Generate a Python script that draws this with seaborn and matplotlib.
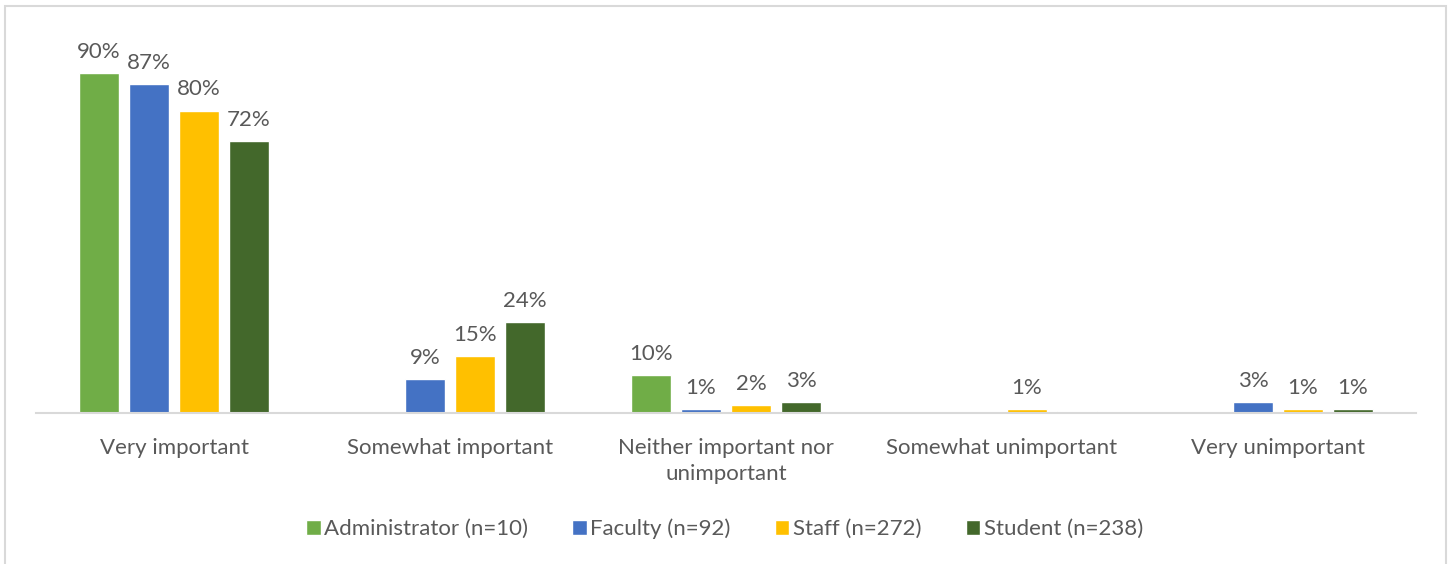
import numpy as np
import pandas as pd
import matplotlib.pyplot as plt
import seaborn as sns
from matplotlib.patches import Rectangle

# 数据
categories = ["Very important", "Somewhat important", "Neither important nor\nunimportant",
              "Somewhat unimportant", "Very unimportant"]
groups = ["Administrator (n=10)", "Faculty (n=92)", "Staff (n=272)", "Student (n=238)"]
admin_vals = [90, 0, 10, 0, 0]
faculty_vals = [87, 9, 1, 0, 3]
staff_vals = [80, 15, 2, 1, 1]
student_vals = [72, 24, 3, 0.6, 1]
admin_lbl = ["90%", "", "10%", "", ""]
faculty_lbl = ["87%", "9%", "1%", "", "3%"]
staff_lbl = ["80%", "15%", "2%", "1%", "1%"]
student_lbl = ["72%", "24%", "3%", "", "1%"]
colors = ["#70AD47", "#4472C4", "#FFC000", "#43682B"]

df = pd.DataFrame({
    "category": categories * 4,
    "group": [g for g in groups for _ in categories],
    "value": admin_vals + faculty_vals + staff_vals + student_vals,
})

sns.set_theme(style="white")
plt.rcParams['font.family'] = ['Lato', 'DejaVu Sans']

fig = plt.figure(figsize=(14.49, 5.64), dpi=100)
ax = fig.add_axes([36 / 1449, 151 / 564, 1380 / 1449, 378 / 564])

sns.barplot(data=df, x="category", y="value", hue="group", palette=colors,
            width=0.725, gap=0.2, ax=ax, legend=True, saturation=1)

txt = "#595959"
for cont, lbls in zip(ax.containers, [admin_lbl, faculty_lbl, staff_lbl, student_lbl]):
    ax.bar_label(cont, labels=lbls, padding=8, fontsize=16, color=txt)

ax.set_ylim(0, 100)
ax.set_xlim(-0.5, 4.5)
ax.set_yticks([])
ax.set_xlabel("")
ax.set_ylabel("")
ax.tick_params(axis="x", length=0, labelsize=16, labelcolor=txt, pad=18)
for lab in ax.get_xticklabels():
    lab.set_linespacing(1.4)
for s in ["top", "right", "left"]:
    ax.spines[s].set_visible(False)
ax.spines["bottom"].set_color("#D9D9D9")
ax.spines["bottom"].set_linewidth(1.5)

handles, labels = ax.get_legend_handles_labels()
ax.legend_.remove()
fig.legend(handles, labels, loc="center", bbox_to_anchor=(0.5, 35 / 564), ncol=4,
           frameon=False, fontsize=16, labelcolor=txt, handlelength=0.65, handleheight=0.65,
           handletextpad=0.15, columnspacing=2.0)

# 图表外框
fig.patches.append(Rectangle((5 / 1449, -0.05), 1441 / 1449, 1.05 - 6 / 564,
                             transform=fig.transFigure, fill=False,
                             edgecolor="#D9D9D9", linewidth=1.5))

fig.savefig("out.png", dpi=100)
